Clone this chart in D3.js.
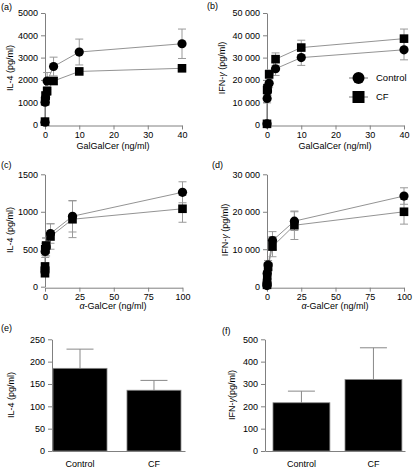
<!DOCTYPE html>
<html><head><meta charset="utf-8">
<script src="https://cdn.jsdelivr.net/npm/d3@7"></script>
<style>
html,body{margin:0;padding:0;background:#fff;}
text{font-family:"Liberation Sans",Arial,Helvetica,sans-serif;fill:#000;}
</style></head>
<body><svg id="c" width="415" height="468"></svg>
<script>
// ---- data ----
const galX = [0, 0.039, 0.156, 0.625, 2.5, 10, 40];
const il4GalControl = [100, 1000, 1200, 1950, 2600, 3250, 3620];
const il4GalControlErr = [50, 150, 200, 380, 420, 580, 660];
const il4GalCF = [130, 1050, 1300, 1500, 1950, 2380, 2520];
const il4GalCFErr = [50, 100, 150, 200, 150, 100, 100];

const ifnGalControl = [300, 11700, 15000, 18500, 25000, 30000, 33500];
const ifnGalControlErr = [200, 2000, 2000, 2000, 3000, 3500, 4500];
const ifnGalCF = [300, 15500, 16300, 22500, 29300, 34500, 38500];
const ifnGalCFErr = [200, 1500, 1500, 2000, 2800, 3300, 4300];

const agalX = [0, 0.032, 0.16, 0.8, 4, 20, 100];
const il4AgalControl = [200, 250, 470, 530, 710, 940, 1260];
const il4AgalControlErr = [40, 50, 80, 120, 130, 210, 140];
const il4AgalCF = [180, 270, 500, 550, 670, 900, 1040];
const il4AgalCFErr = [40, 50, 80, 100, 170, 245, 180];

const ifnAgalControl = [300, 800, 3500, 5800, 12300, 17500, 24200];
const ifnAgalControlErr = [300, 500, 800, 1200, 2400, 2500, 2200];
const ifnAgalCF = [500, 1000, 3000, 5300, 10700, 16400, 20000];
const ifnAgalCFErr = [300, 500, 800, 1200, 2700, 3800, 3300];

const groups = ["Control", "CF"];
const il4Bars = [185, 136];
const il4BarsErr = [43, 22];
const ifnBars = [216, 320];
const ifnBarsErr = [52, 142];

const galTicks = [0, 10, 20, 30, 40];
const agalTicks = [0, 25, 50, 75, 100];
const il4GalTicks = [0, 1000, 2000, 3000, 4000, 5000];
const ifnGalTicks = [0, 10000, 20000, 30000, 40000, 50000];
const il4AgalTicks = [0, 500, 1000, 1500];
const ifnAgalTicks = [0, 10000, 20000, 30000];
const il4BarTicks = [0, 50, 100, 150, 200, 250];
const ifnBarTicks = [0, 100, 200, 300, 400, 500];

// ---- drawing ----
const svg = d3.select("#c");
const AX = "#808080";
const fmtSp = v => v >= 10000 ? d3.format(",")(v).replace(/,/g, " ") : String(v);

function styleAxis(g) {
  g.selectAll("path,line").attr("stroke", AX).attr("stroke-width", 1);
  g.selectAll("text").style("font-size", "9px").attr("fill", "#000");
}

function label(txt, x, y) {
  svg.append("text").attr("x", x).attr("y", y).style("font-size", "9px").text(txt);
}

function yTitle(parts, x, y) {
  const t = svg.append("text").attr("transform", `translate(${x},${y}) rotate(-90)`)
    .attr("text-anchor", "middle").attr("dy", "0.35em").style("font-size", "9px");
  parts.forEach(p => { const s = t.append("tspan").text(p.t); if (p.i) s.style("font-style", "italic"); });
}
function xTitle(parts, x, y) {
  const t = svg.append("text").attr("x", x).attr("y", y).attr("text-anchor", "middle").style("font-size", "9px");
  parts.forEach(p => { const s = t.append("tspan").text(p.t); if (p.i) s.style("font-style", "italic"); });
}

function scatterPanel(o) {
  const x = d3.scaleLinear().domain([0, o.xTicks[o.xTicks.length - 1]]).range([o.x0, o.x1]);
  const y = d3.scaleLinear().domain([0, o.yTicks[o.yTicks.length - 1]]).range([o.yb, o.yt]);
  const g = svg.append("g");
  g.append("g").attr("transform", `translate(0,${o.yb + 1})`)
    .call(d3.axisBottom(x).tickValues(o.xTicks).tickSize(4).tickSizeOuter(0).tickPadding(2)).call(styleAxis);
  g.append("g").attr("transform", `translate(${o.x0},0)`)
    .call(d3.axisLeft(y).tickValues(o.yTicks).tickSize(4).tickSizeOuter(0).tickFormat(fmtSp).tickPadding(3)).call(styleAxis);
  const series = [
    {v: o.ctl, e: o.ctlE, shape: "circle"},
    {v: o.cf, e: o.cfE, shape: "square"}
  ];
  const line = d3.line().x((d, i) => x(o.xs[i])).y(d => y(d));
  series.forEach(s => {
    g.append("path").datum(s.v).attr("d", line).attr("fill", "none").attr("stroke", "#777").attr("stroke-width", 0.8);
  });
  series.forEach(s => {
    s.v.forEach((v, i) => {
      const cx = x(o.xs[i]);
      const e = s.e[i];
      g.append("line").attr("x1", cx).attr("x2", cx).attr("y1", y(v - e)).attr("y2", y(v + e)).attr("stroke", "#999");
      [v - e, v + e].forEach(ev => g.append("line").attr("x1", cx - 4).attr("x2", cx + 4)
        .attr("y1", y(ev)).attr("y2", y(ev)).attr("stroke", "#999"));
    });
  });
  series.forEach(s => {
    s.v.forEach((v, i) => {
      const cx = x(o.xs[i]), cy = y(v);
      if (s.shape === "circle") g.append("circle").attr("cx", cx).attr("cy", cy).attr("r", 4.6).attr("fill", "#000");
      else g.append("rect").attr("x", cx - 4.3).attr("y", cy - 4.3).attr("width", 8.6).attr("height", 8.6).attr("fill", "#000");
    });
  });
}

function barPanel(o) {
  const x = d3.scaleBand().domain(groups).range([o.x0, o.x1])
    .paddingInner(o.pi).paddingOuter(o.po).align(o.al);
  const y = d3.scaleLinear().domain([0, o.yTicks[o.yTicks.length - 1]]).range([o.yb, o.yt]);
  const g = svg.append("g");
  o.vals.forEach((v, i) => {
    const cx = x(groups[i]) + x.bandwidth() / 2;
    g.append("line").attr("x1", cx).attr("x2", cx).attr("y1", y(v)).attr("y2", y(v + o.err[i])).attr("stroke", "#888");
    g.append("line").attr("x1", cx - 13.5).attr("x2", cx + 13.5).attr("y1", y(v + o.err[i])).attr("y2", y(v + o.err[i])).attr("stroke", "#888");
    g.append("rect").attr("x", x(groups[i])).attr("y", y(v)).attr("width", x.bandwidth()).attr("height", y(0) - y(v))
      .attr("fill", "#000").attr("stroke", "#888").attr("stroke-width", 0.8);
  });
  g.append("g").attr("transform", `translate(0,${o.yb})`)
    .call(d3.axisBottom(x).tickSize(0).tickSizeOuter(0).tickPadding(10)).call(styleAxis);
  g.append("g").attr("transform", `translate(${o.x0},0)`)
    .call(d3.axisLeft(y).tickValues(o.yTicks).tickSize(4).tickSizeOuter(0).tickPadding(3)).call(styleAxis);
}

scatterPanel({x0: 45, x1: 182, yt: 13, yb: 124.5, xs: galX, xTicks: galTicks, yTicks: il4GalTicks,
  ctl: il4GalControl, ctlE: il4GalControlErr, cf: il4GalCF, cfE: il4GalCFErr});
scatterPanel({x0: 267, x1: 404, yt: 13, yb: 124.5, xs: galX, xTicks: galTicks, yTicks: ifnGalTicks,
  ctl: ifnGalControl, ctlE: ifnGalControlErr, cf: ifnGalCF, cfE: ifnGalCFErr});
scatterPanel({x0: 45, x1: 182.5, yt: 174.3, yb: 286.7, xs: agalX, xTicks: agalTicks, yTicks: il4AgalTicks,
  ctl: il4AgalControl, ctlE: il4AgalControlErr, cf: il4AgalCF, cfE: il4AgalCFErr});
scatterPanel({x0: 267, x1: 404, yt: 174.3, yb: 286.7, xs: agalX, xTicks: agalTicks, yTicks: ifnAgalTicks,
  ctl: ifnAgalControl, ctlE: ifnAgalControlErr, cf: ifnAgalCF, cfE: ifnAgalCFErr});
barPanel({x0: 52, x1: 185, yt: 339.3, yb: 451, yTicks: il4BarTicks, vals: il4Bars, err: il4BarsErr,
  pi: 0.27, po: 0.034, al: 0.2});
barPanel({x0: 265, x1: 405, yt: 339.3, yb: 451, yTicks: ifnBarTicks, vals: ifnBars, err: ifnBarsErr,
  pi: 0.21, po: 0.077, al: 0.72});

// legend (panel b)
const lg = svg.append("g");
[{n: groups[0], s: "circle", y: 78}, {n: groups[1], s: "square", y: 97}].forEach(d => {
  lg.append("line").attr("x1", 349).attr("x2", 368).attr("y1", d.y).attr("y2", d.y).attr("stroke", "#777");
  if (d.s === "circle") lg.append("circle").attr("cx", 358.5).attr("cy", d.y).attr("r", 6).attr("fill", "#000");
  else lg.append("rect").attr("x", 352.5).attr("y", d.y - 6).attr("width", 12).attr("height", 12).attr("fill", "#000");
  lg.append("text").attr("x", 376).attr("y", d.y).attr("dy", "0.35em").style("font-size", "9.5px").text(d.n);
});

// titles
label("(a)", 1, 10); label("(b)", 207, 9);
label("(c)", 1, 168); label("(d)", 212, 168);
label("(e)", 1, 331); label("(f)", 222, 334);
yTitle([{t: "IL-4 (pg/ml)"}], 10, 68);
yTitle([{t: "IFN-"}, {t: "γ", i: true}, {t: " (pg/ml)"}], 222, 68);
yTitle([{t: "IL-4 (pg/ml)"}], 10, 230);
yTitle([{t: "IFN-"}, {t: "γ", i: true}, {t: " (pg/ml)"}], 225, 230);
yTitle([{t: "IL-4 (pg/ml)"}], 11, 395);
yTitle([{t: "IFN-"}, {t: "γ", i: true}, {t: "(pg/ml)"}], 232, 395);
xTitle([{t: "GalGalCer (ng/ml)"}], 113, 149);
xTitle([{t: "GalGalCer (ng/ml)"}], 335, 149);
xTitle([{t: "α", i: true}, {t: "-GalCer (ng/ml)"}], 113, 309);
xTitle([{t: "α", i: true}, {t: "-GalCer (ng/ml)"}], 335, 309);
</script></body></html>
